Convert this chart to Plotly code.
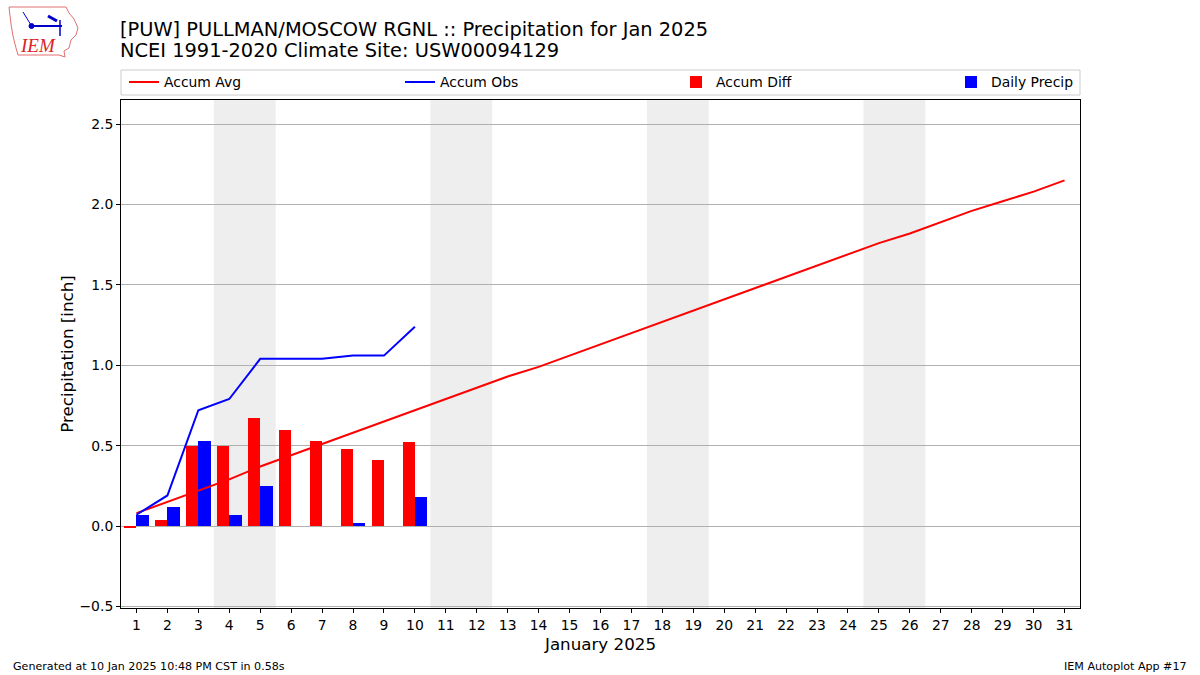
import plotly.graph_objects as go

days = list(range(1, 32))
accum_avg = [0.08, 0.15, 0.22, 0.29, 0.37, 0.44, 0.51, 0.58, 0.65, 0.72,
             0.79, 0.86, 0.93, 0.99, 1.06, 1.13, 1.20, 1.27, 1.34, 1.41,
             1.48, 1.55, 1.62, 1.69, 1.76, 1.82, 1.89, 1.96, 2.02, 2.08, 2.15]
obs_days = list(range(1, 11))
accum_obs = [0.07, 0.19, 0.72, 0.79, 1.04, 1.04, 1.04, 1.06, 1.06, 1.24]
accum_diff = [-0.01, 0.04, 0.50, 0.50, 0.67, 0.60, 0.53, 0.48, 0.41, 0.52]
daily_precip = [0.07, 0.12, 0.53, 0.07, 0.25, 0.0, 0.0, 0.02, 0.0, 0.18]
weekends = [(3.5, 5.5), (10.5, 12.5), (17.5, 19.5), (24.5, 26.5)]
y_ticks = [-0.5, 0.0, 0.5, 1.0, 1.5, 2.0, 2.5]

FONT = "DejaVu Sans"
L, R, T, B = 121, 1080, 100, 608
W, H = 1200, 675


def px(x):
    return (x - L) / (R - L)


def py(y):
    return (B - y) / (B - T)


fig = go.Figure()
fig.add_trace(go.Scatter(x=days, y=accum_avg, mode="lines", name="Accum Avg",
                         line=dict(color="#ff0000", width=2), legend="legend"))
fig.add_trace(go.Scatter(x=obs_days, y=accum_obs, mode="lines", name="Accum Obs",
                         line=dict(color="#0000ff", width=2), legend="legend2"))
fig.add_trace(go.Bar(x=obs_days, y=accum_diff, name="Accum Diff", marker_color="#ff0000",
                     marker_line_width=0, width=0.4, offset=-0.4, legend="legend3"))
fig.add_trace(go.Bar(x=obs_days, y=daily_precip, name="Daily Precip", marker_color="#0000ff",
                     marker_line_width=0, width=0.4, offset=0.0, legend="legend4"))

for a, b in weekends:
    fig.add_vrect(x0=a, x1=b, fillcolor="#eeeeee", line_width=0, layer="below")

# legend frame
fig.add_shape(type="rect", xref="paper", yref="paper", x0=px(121), x1=px(1080),
              y0=py(95), y1=py(70), line=dict(color="#cccccc", width=1), fillcolor="white")

# titles
fig.add_annotation(text="[PUW] PULLMAN/MOSCOW RGNL :: Precipitation for Jan 2025", xref="paper", yref="paper",
                   x=px(118), y=py(29), xanchor="left", yanchor="middle", showarrow=False,
                   font=dict(family=FONT, size=19.4, color="black"))
fig.add_annotation(text="NCEI 1991-2020 Climate Site: USW00094129", xref="paper", yref="paper",
                   x=px(118), y=py(51), xanchor="left", yanchor="middle", showarrow=False,
                   font=dict(family=FONT, size=19.4, color="black"))
# footers
fig.add_annotation(text="Generated at 10 Jan 2025 10:48 PM CST in 0.58s", xref="paper", yref="paper",
                   x=px(11), y=py(666), xanchor="left", yanchor="middle", showarrow=False,
                   font=dict(family=FONT, size=11.1, color="black"))
fig.add_annotation(text="IEM Autoplot App #17", xref="paper", yref="paper",
                   x=px(1189), y=py(666), xanchor="right", yanchor="middle", showarrow=False,
                   font=dict(family=FONT, size=11.1, color="black"))

# logo (approximate)
outline = [(9, 7), (66, 7), (69, 13), (74, 19), (78, 28), (76, 35), (71, 40), (69, 48),
           (64, 51), (65, 57), (59, 55), (18, 55), (16, 48), (13, 36), (11, 24), (9, 7)]
path = "M " + " L ".join(f"{px(x)},{py(y)}" for x, y in outline) + " Z"
fig.add_shape(type="path", xref="paper", yref="paper", path=path,
              line=dict(color="#e07070", width=1))
fig.add_shape(type="line", xref="paper", yref="paper", x0=px(30), x1=px(62), y0=py(26), y1=py(26),
              line=dict(color="#0000cc", width=2))
fig.add_shape(type="line", xref="paper", yref="paper", x0=px(60), x1=px(60), y0=py(20), y1=py(36),
              line=dict(color="#0000cc", width=1.5))
fig.add_shape(type="circle", xref="paper", yref="paper", x0=px(29), x1=px(34), y0=py(23.5), y1=py(28.5),
              line=dict(color="#0000cc", width=1), fillcolor="#0000cc")
fig.add_shape(type="line", xref="paper", yref="paper", x0=px(48), x1=px(57), y0=py(16), y1=py(21),
              line=dict(color="#0000cc", width=3))
fig.add_shape(type="line", xref="paper", yref="paper", x0=px(23), x1=px(31), y0=py(12), y1=py(25),
              line=dict(color="#0000cc", width=1))
fig.add_annotation(text="<i>IEM</i>", xref="paper", yref="paper", x=px(38), y=py(46),
                   xanchor="center", yanchor="middle", showarrow=False,
                   font=dict(family="Liberation Serif", size=19, color="#dd2222"))

legend_common = dict(orientation="h", yanchor="middle", xanchor="left", y=py(82.5),
                     bgcolor="rgba(0,0,0,0)", borderwidth=0,
                     font=dict(family=FONT, size=13.9, color="black"))
legend_x = [124, 400, 676, 951]

fig.update_layout(
    width=W, height=H,
    margin=dict(l=L, r=W - R, t=T, b=H - B),
    paper_bgcolor="white", plot_bgcolor="white",
    font=dict(family=FONT, size=13.9, color="black"),
    barmode="overlay", bargap=0,
    showlegend=True,
    legend=dict(x=px(legend_x[0]), **legend_common),
    legend2=dict(x=px(legend_x[1]), **legend_common),
    legend3=dict(x=px(legend_x[2]), **legend_common),
    legend4=dict(x=px(legend_x[3]), **legend_common),
    xaxis=dict(range=[0.5, 31.5], tickmode="array", tickvals=days, ticktext=[str(d) for d in days],
               ticks="outside", ticklen=4, tickcolor="black", showgrid=False, zeroline=False,
               showline=True, linecolor="black", linewidth=1, mirror=True,
               title=dict(text="January 2025", font=dict(family=FONT, size=16.7), standoff=6),
               tickfont=dict(size=13.9)),
    yaxis=dict(range=[-0.51, 2.65], tickmode="array", tickvals=y_ticks, tickformat=".1f",
               ticks="outside", ticklen=4, tickcolor="black", showgrid=True, gridcolor="#b0b0b0",
               gridwidth=1, zeroline=False, showline=True, linecolor="black", linewidth=1, mirror=True,
               title=dict(text="Precipitation [inch]", font=dict(family=FONT, size=16.7), standoff=1),
               tickfont=dict(size=13.9)),
)

fig.write_html("out.html")
